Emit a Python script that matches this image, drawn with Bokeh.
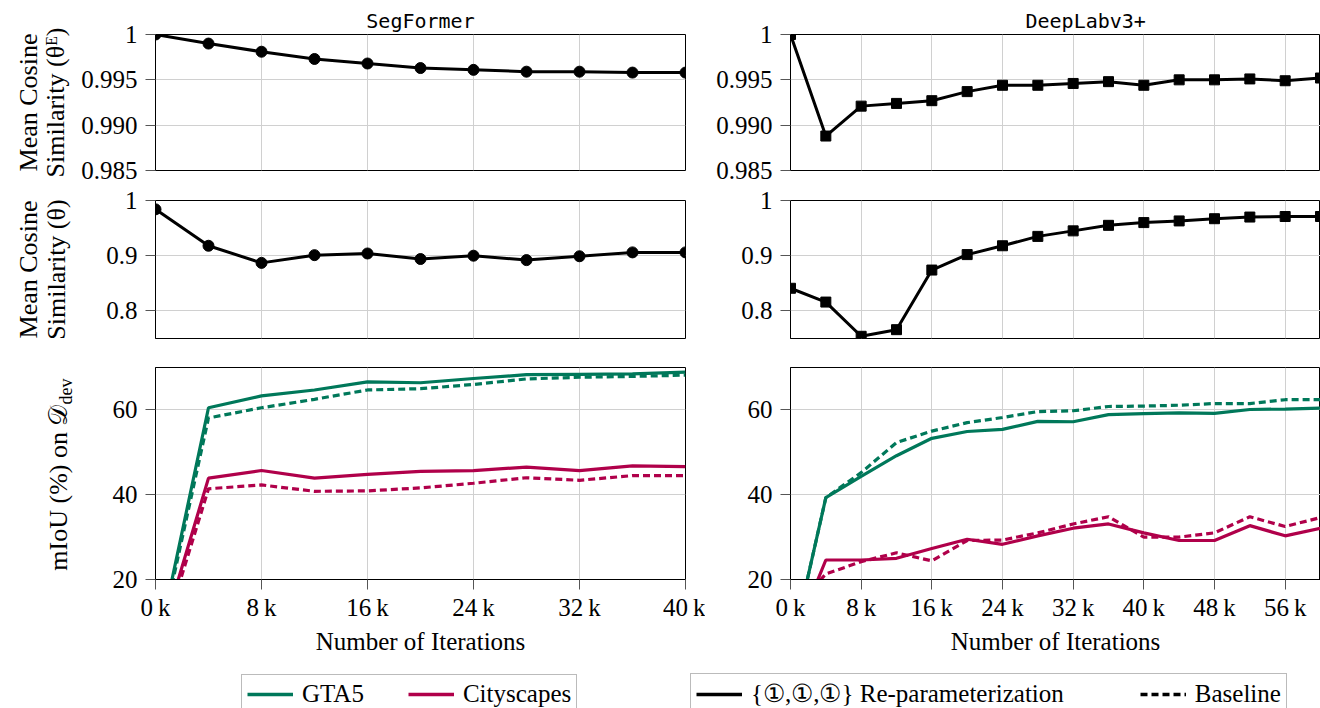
import math
from bokeh.plotting import figure
from bokeh.models import (FixedTicker, CustomJSTickFormatter, Range1d,
                          Legend, LegendItem)
from bokeh.core.properties import value
from bokeh.layouts import column, row
from bokeh.embed import file_html
from bokeh.resources import INLINE

# ---------------- data ----------------
ITER_SEG = [0, 4000, 8000, 12000, 16000, 20000, 24000, 28000, 32000, 36000, 40000]
ITER_DL = [0, 4000, 8000, 12000, 16000, 20000, 24000, 28000, 32000, 36000, 40000,
           44000, 48000, 52000, 56000, 60000]

SEG_COS_ENC = [1.0, 0.9990, 0.9981, 0.9973, 0.9968, 0.9963, 0.9961, 0.9959, 0.9959, 0.9958, 0.9958]
DL_COS_ENC = [1.0, 0.9888, 0.9921, 0.9924, 0.9927, 0.9937, 0.9944, 0.9944, 0.9946, 0.9948, 0.9944,
              0.9950, 0.9950, 0.9951, 0.9949, 0.9952]

SEG_COS_ALL = [0.984, 0.918, 0.887, 0.901, 0.904, 0.894, 0.900, 0.892, 0.899, 0.906, 0.906]
DL_COS_ALL = [0.841, 0.816, 0.754, 0.766, 0.874, 0.902, 0.918, 0.935, 0.945, 0.955, 0.960,
              0.963, 0.967, 0.970, 0.971, 0.971]

SEG_GTA_REPARAM = [1.7, 60.5, 63.3, 64.7, 66.6, 66.4, 67.4, 68.3, 68.4, 68.5, 68.9]
SEG_GTA_BASE = [1.0, 58.1, 60.5, 62.5, 64.7, 65.0, 66.0, 67.3, 67.7, 67.9, 68.2]
SEG_CS_REPARAM = [2.0, 43.9, 45.7, 43.9, 44.8, 45.5, 45.7, 46.5, 45.7, 46.8, 46.6]
SEG_CS_BASE = [0.8, 41.4, 42.3, 40.8, 40.9, 41.6, 42.7, 44.0, 43.4, 44.5, 44.5]

DL_GTA_REPARAM = [2.5, 39.3, 44.3, 49.2, 53.3, 54.9, 55.4, 57.3, 57.2, 58.9, 59.1,
                  59.3, 59.2, 60.1, 60.2, 60.4]
DL_GTA_BASE = [2.5, 39.3, 45.2, 52.3, 55.0, 57.0, 58.2, 59.6, 59.8, 60.8, 60.9,
               61.1, 61.5, 61.5, 62.4, 62.4]
DL_CS_REPARAM = [4.1, 24.6, 24.6, 25.0, 27.3, 29.5, 28.3, 30.3, 32.1, 33.1, 31.0,
                 29.2, 29.2, 32.7, 30.3, 32.1]
DL_CS_BASE = [12.0, 21.3, 24.2, 26.3, 24.4, 29.2, 29.3, 31.0, 33.1, 34.8, 30.0,
              30.0, 31.0, 34.8, 32.5, 34.6]

X_TICKS_SEG = [0, 8000, 16000, 24000, 32000, 40000]
X_TICKS_DL = [0, 8000, 16000, 24000, 32000, 40000, 48000, 56000]
Y_TICKS_ENC = [0.985, 0.990, 0.995, 1.0]
Y_TICKS_ALL = [0.8, 0.9, 1.0]
Y_TICKS_MIOU = [20, 40, 60]

TITLES = ["SegFormer", "DeepLabv3+"]
YLABEL_ENC = ["Mean Cosine", "Similarity (\u03b8\u1d31)"]
YLABEL_ALL = ["Mean Cosine", "Similarity (\u03b8)"]
YLABEL_MIOU = ["mIoU (%) on \U0001d49f", "dev"]
LEGEND_DATA = ["GTA5", "Cityscapes"]
LEGEND_METHOD = ["{\u2460,\u2460,\u2460} Re-parameterization", "Baseline"]

# ---------------- style ----------------
SERIF = "Liberation Serif"
MONO = "DejaVu Sans Mono"
GREEN = "#00785a"
RED = "#b0004a"
FS = "25px"
FS_SIDE = "26px"
DASH = "7 4"

LAB_W = 75
LEFT_W, RIGHT_W = 630, 615
LEFT_B = (80, 20)
RIGHT_B = (85, 0)
H1, H2, H3, H4 = 185, 168, 312, 43

fmt_x = CustomJSTickFormatter(code="return (tick/1000).toFixed(0) + '\\u2009k';")
fmt_enc = CustomJSTickFormatter(code="return tick >= 0.9999 ? '1' : tick.toFixed(3);")
fmt_all = CustomJSTickFormatter(code="return tick >= 0.9999 ? '1' : tick.toFixed(1);")
fmt_miou = CustomJSTickFormatter(code="return tick.toFixed(0);")


def make_fig(left, height, xmax, xticks, yr, yticks, yfmt, bt, bb, bottom_row):
    width = LEFT_W if left else RIGHT_W
    bl, br = LEFT_B if left else RIGHT_B
    p = figure(width=width, height=height, x_range=Range1d(0, xmax), y_range=Range1d(*yr),
               output_backend="svg", toolbar_location=None,
               min_border_left=bl, min_border_right=br,
               min_border_top=bt, min_border_bottom=bb)
    p.outline_line_color = "black"
    p.outline_line_width = 1
    p.outline_line_alpha = 1
    xa, ya = p.xaxis[0], p.yaxis[0]
    xa.ticker = FixedTicker(ticks=xticks)
    ya.ticker = FixedTicker(ticks=yticks)
    p.xgrid.ticker = FixedTicker(ticks=xticks)
    p.ygrid.ticker = FixedTicker(ticks=yticks)
    for g in (p.xgrid[0], p.ygrid[0]):
        g.grid_line_color = "#d0d0d0"
        g.grid_line_width = 1
    for ax in (xa, ya):
        ax.major_tick_out = 10
        ax.major_tick_in = 0
        ax.minor_tick_out = 0
        ax.minor_tick_in = 0
        ax.major_tick_line_color = "#555555"
        ax.axis_line_color = "black"
        ax.major_label_text_font = SERIF
        ax.major_label_text_font_size = FS
        ax.major_label_text_color = "black"
    ya.formatter = yfmt
    ya.major_label_standoff = 8
    xa.formatter = fmt_x
    if bottom_row:
        xa.major_label_standoff = 4
        xa.axis_label = "Number of Iterations"
        xa.axis_label_text_font = SERIF
        xa.axis_label_text_font_size = FS
        xa.axis_label_text_font_style = "normal"
        xa.axis_label_text_color = "black"
        xa.axis_label_standoff = 4
    else:
        xa.visible = False
    return p


def label_fig(height):
    """Narrow pixel-scaled strip holding the rotated y-axis label of a row."""
    q = figure(width=LAB_W, height=height, x_range=Range1d(0, LAB_W), y_range=Range1d(0, height),
               output_backend="svg", toolbar_location=None, x_axis_type=None, y_axis_type=None,
               min_border=0)
    q.frame_align = False
    q.outline_line_color = None
    q.grid.visible = False
    return q


def vtext(q, x, y, text, align="center", size=FS_SIDE):
    q.text(x=[x], y=[y], text=[text], angle=math.pi / 2, text_align=align,
           text_baseline="alphabetic", text_font=value(SERIF), text_font_size=value(size),
           text_color="black")


# ---------------- row 1: encoder cosine similarity ----------------
p11 = make_fig(True, H1, 40000, X_TICKS_SEG, (0.985, 1.0), Y_TICKS_ENC, fmt_enc, 34, 15, False)
p12 = make_fig(False, H1, 60000, X_TICKS_DL, (0.985, 1.0), Y_TICKS_ENC, fmt_enc, 34, 15, False)
p11.line(ITER_SEG, SEG_COS_ENC, color="black", line_width=3)
p11.scatter(ITER_SEG, SEG_COS_ENC, marker="circle", size=11, color="black")
p12.line(ITER_DL, DL_COS_ENC, color="black", line_width=3)
p12.scatter(ITER_DL, DL_COS_ENC, marker="square", size=10, color="black")
for p, t, al, off in ((p11, TITLES[0], "center", 0), (p12, TITLES[1], "left", 235)):
    p.title.text = t
    p.title.text_font = MONO
    p.title.text_font_size = "20px"
    p.title.text_font_style = "normal"
    p.title.text_color = "black"
    p.title.align = al
    p.title.standoff = 4
    p.title.offset = off
q1 = label_fig(H1)
vtext(q1, 28, H1 - 102, YLABEL_ENC[0])
vtext(q1, 55, H1 - 102, YLABEL_ENC[1])

# ---------------- row 2: full-model cosine similarity ----------------
p21 = make_fig(True, H2, 40000, X_TICKS_SEG, (0.75, 1.0), Y_TICKS_ALL, fmt_all, 15, 15, False)
p22 = make_fig(False, H2, 60000, X_TICKS_DL, (0.75, 1.0), Y_TICKS_ALL, fmt_all, 15, 15, False)
p21.line(ITER_SEG, SEG_COS_ALL, color="black", line_width=3)
p21.scatter(ITER_SEG, SEG_COS_ALL, marker="circle", size=11, color="black")
p22.line(ITER_DL, DL_COS_ALL, color="black", line_width=3)
p22.scatter(ITER_DL, DL_COS_ALL, marker="square", size=10, color="black")
q2 = label_fig(H2)
vtext(q2, 28, H2 - (269 - H1), YLABEL_ALL[0])
vtext(q2, 56, H2 - (269 - H1), YLABEL_ALL[1])

# ---------------- row 3: mIoU ----------------
p31 = make_fig(True, H3, 40000, X_TICKS_SEG, (20, 70), Y_TICKS_MIOU, fmt_miou, 14, 86, True)
p32 = make_fig(False, H3, 60000, X_TICKS_DL, (20, 70), Y_TICKS_MIOU, fmt_miou, 14, 86, True)
for p, it, gr, gb, cr, cb in ((p31, ITER_SEG, SEG_GTA_REPARAM, SEG_GTA_BASE, SEG_CS_REPARAM, SEG_CS_BASE),
                              (p32, ITER_DL, DL_GTA_REPARAM, DL_GTA_BASE, DL_CS_REPARAM, DL_CS_BASE)):
    p.line(it, gr, color=GREEN, line_width=3.2)
    p.line(it, gb, color=GREEN, line_width=3.2, line_dash=DASH)
    p.line(it, cr, color=RED, line_width=3.2)
    p.line(it, cb, color=RED, line_width=3.2, line_dash=DASH)
q3 = label_fig(H3)
anchor_y = H3 - (404 - (H1 + H2))
vtext(q3, 58, anchor_y, YLABEL_MIOU[0], align="right")
vtext(q3, 65, anchor_y, YLABEL_MIOU[1], align="left", size="18px")

# ---------------- legend ----------------
leg = figure(width=1320, height=H4, output_backend="svg", toolbar_location=None,
             x_axis_type=None, y_axis_type=None, min_border=0,
             x_range=Range1d(-2, -1), y_range=Range1d(-2, -1))
leg.frame_align = False
leg.outline_line_color = None
# legend keys: series drawn outside the (empty) legend frame, only their keys show
r_g = leg.line(ITER_SEG, SEG_GTA_REPARAM, color=GREEN, line_width=3.5)
r_c = leg.line(ITER_SEG, SEG_CS_REPARAM, color=RED, line_width=3.5)
r_r = leg.line(ITER_SEG, SEG_COS_ENC, color="black", line_width=3.5)
r_b = leg.line(ITER_SEG, SEG_COS_ALL, color="black", line_width=3.5, line_dash=DASH)


def style_legend(lg, spacing):
    lg.orientation = "horizontal"
    lg.label_text_font = SERIF
    lg.label_text_font_size = FS
    lg.label_text_color = "black"
    lg.glyph_width = 46
    lg.glyph_height = 20
    lg.label_standoff = 9
    lg.spacing = spacing
    lg.padding = 5
    lg.margin = 0
    lg.border_line_color = "#777777"
    lg.border_line_width = 1
    lg.background_fill_color = "white"
    lg.background_fill_alpha = 1


lg1 = Legend(items=[LegendItem(label=LEGEND_DATA[0], renderers=[r_g]),
                    LegendItem(label=LEGEND_DATA[1], renderers=[r_c])], location=(241, -6))
lg2 = Legend(items=[LegendItem(label=LEGEND_METHOD[0], renderers=[r_r]),
                    LegendItem(label=LEGEND_METHOD[1], renderers=[r_b])], location=(690, -6))
style_legend(lg1, 44)
style_legend(lg2, 76)
leg.add_layout(lg1)
leg.add_layout(lg2)

layout = column(row(q1, p11, p12), row(q2, p21, p22), row(q3, p31, p32), leg)
open("out.html", "w").write(file_html(layout, INLINE, title="Cosine similarity and mIoU"))
